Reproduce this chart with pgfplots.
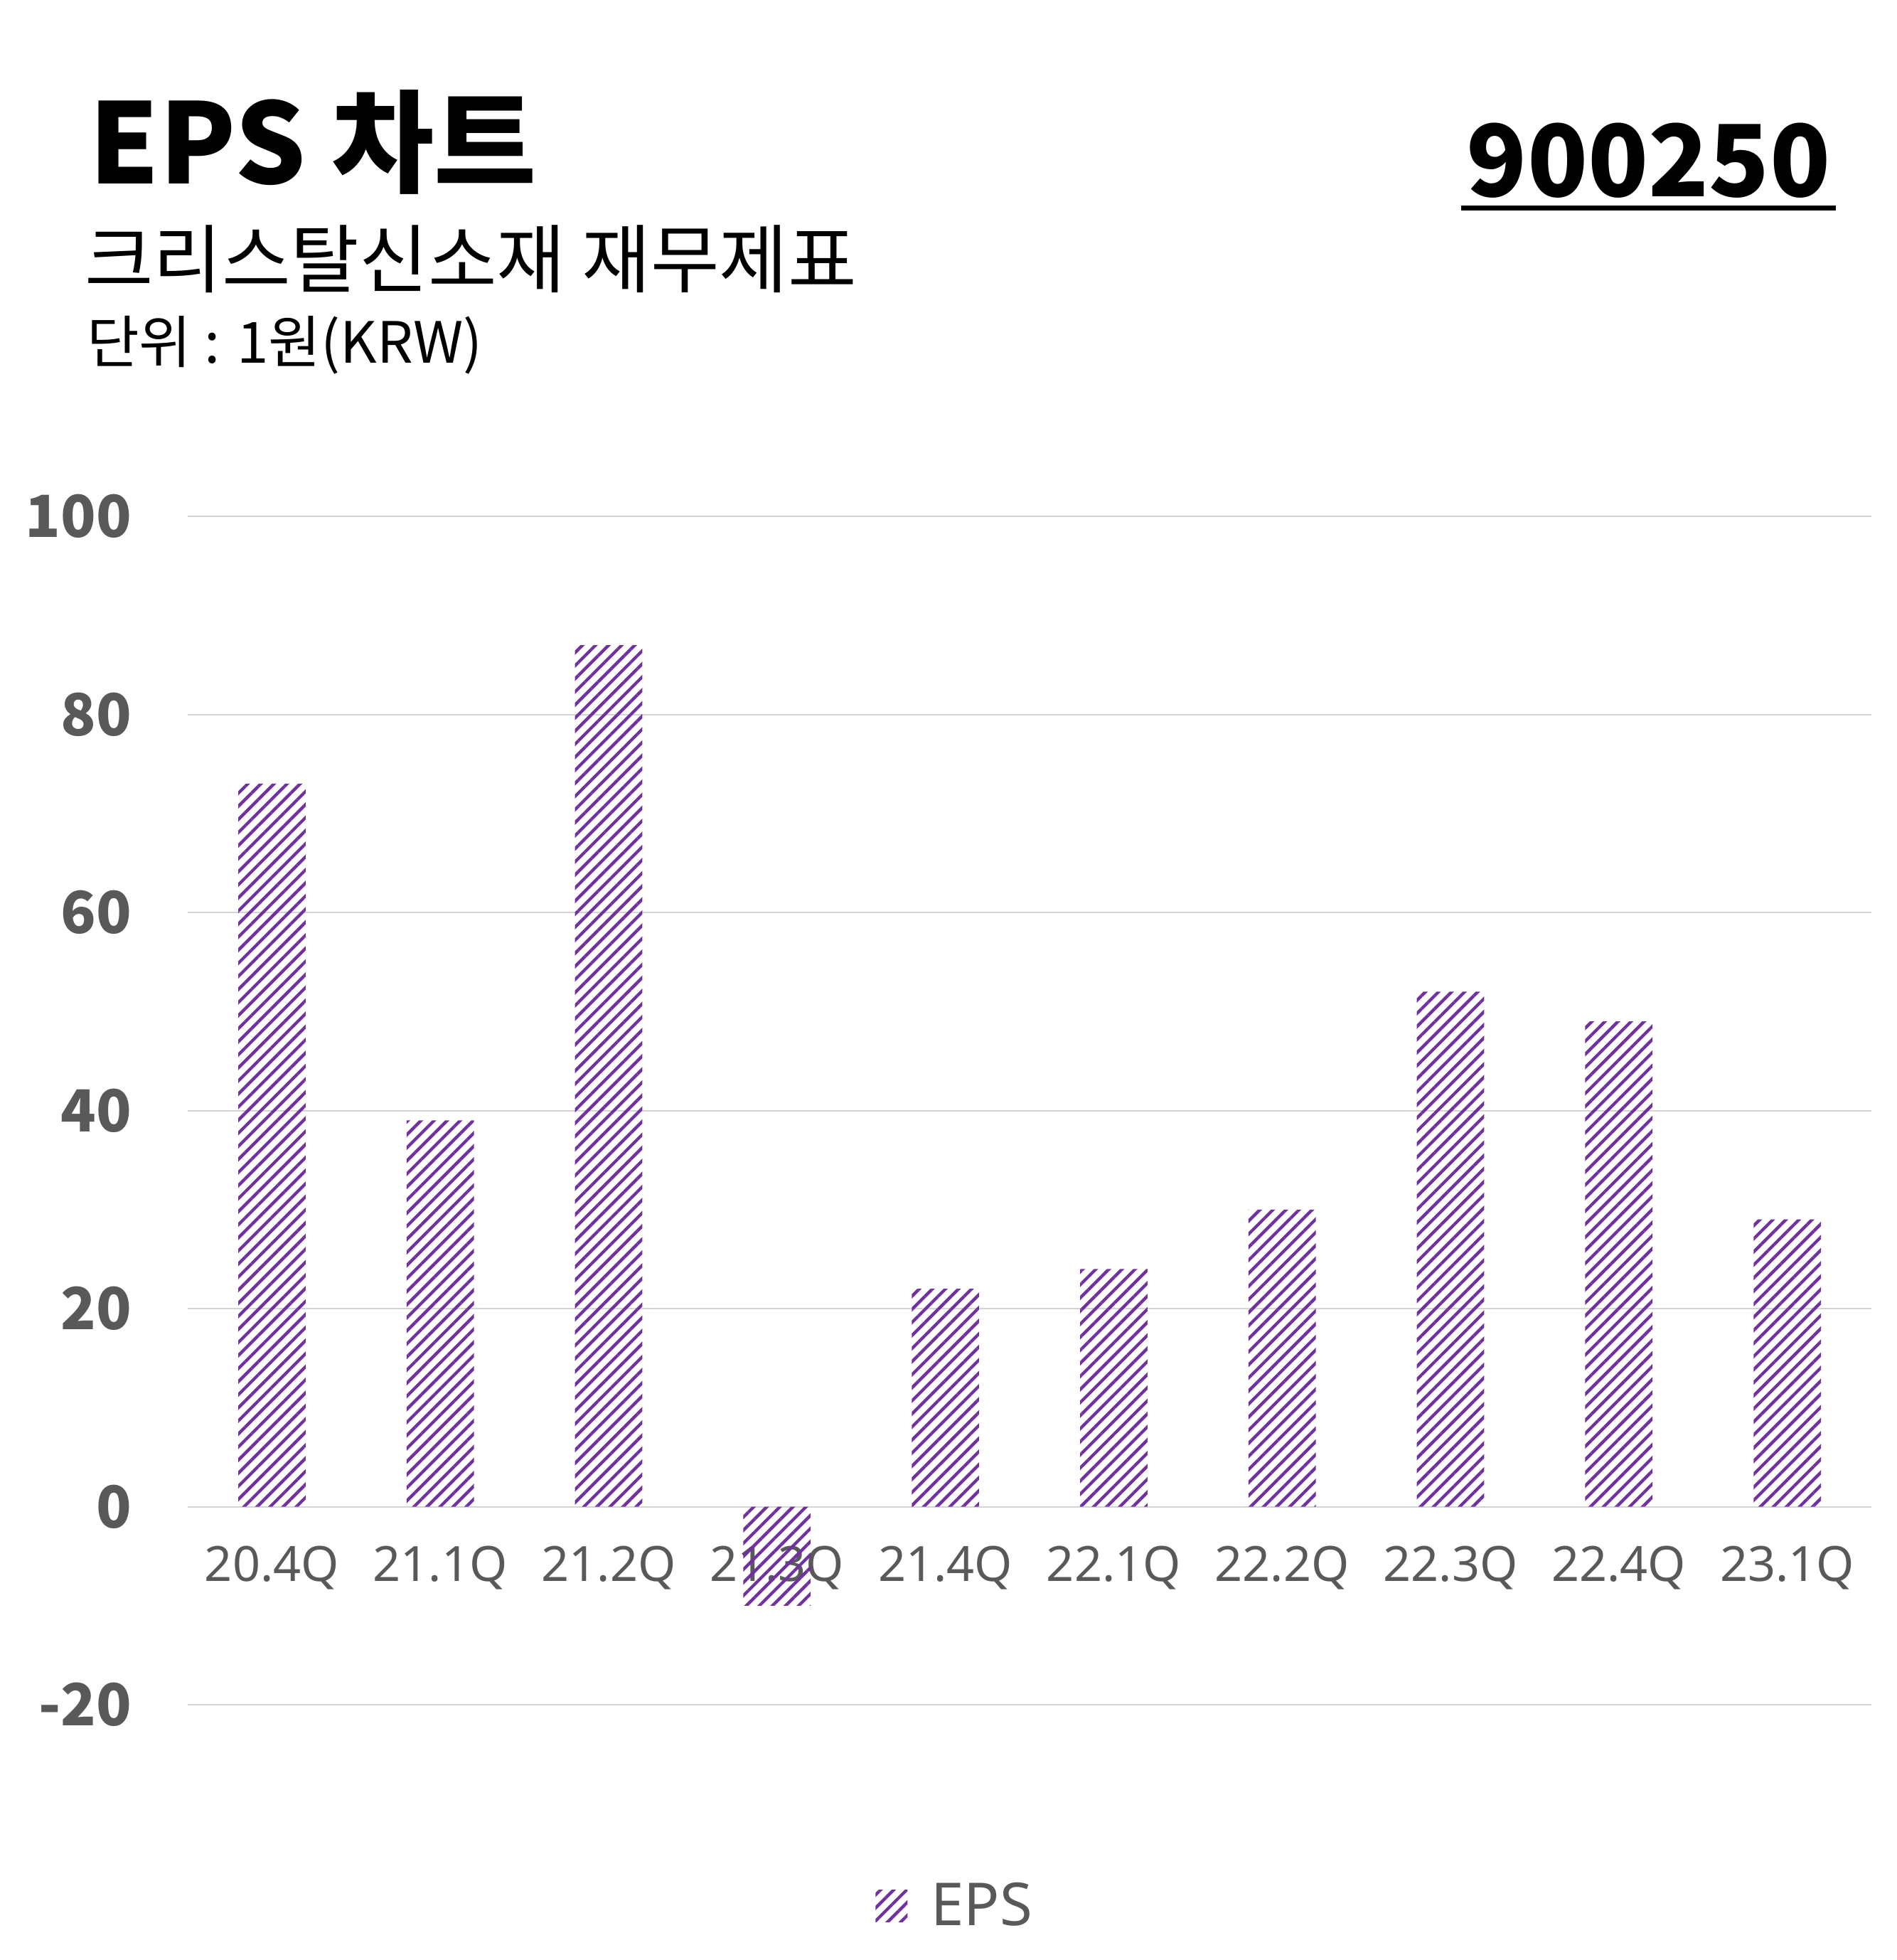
\documentclass[border=0pt]{standalone}
\usepackage{fontspec}
\setmainfont{Noto Sans}
\newfontfamily\kr{Noto Sans CJK KR}
\usepackage{pgfplots}
\pgfplotsset{compat=1.18}
\usetikzlibrary{patterns.meta}
\definecolor{barpurple}{HTML}{7030A0}
\definecolor{lblgray}{HTML}{595959}
\definecolor{gridgray}{HTML}{D4D4D4}

\begin{document}
\begin{tikzpicture}
\useasboundingbox (0,0) rectangle (800.1pt,-826.8pt);
\node[anchor=base west, inner sep=0pt, font=\kr\fontsize{47}{56}\selectfont\bfseries] at (37.5pt,-77.4pt) {EPS 차트};
\node[anchor=base east, inner sep=0pt, font=\kr\fontsize{42}{50}\selectfont\bfseries] (code) at (772.5pt,-82.8pt) {900250};
\draw[line width=2.1pt] ([xshift=-2pt,yshift=-4.8pt]code.base west) -- ([xshift=2pt,yshift=-4.8pt]code.base east);
\node[anchor=base west, inner sep=0pt, font=\kr\fontsize{31.5}{37}\selectfont] at (35.5pt,-121pt) {크리스탈신소재 재무제표};
\node[anchor=base west, inner sep=0pt, font=\kr\fontsize{24}{29}\selectfont] at (36.5pt,-153pt) {단위 : 1원(KRW)};
\begin{axis}[
  at={(79.2pt,-719.1pt)}, anchor=south west,
  scale only axis, width=710.4pt, height=501.3pt,
  xmin=-0.5, xmax=9.5, ymin=-20, ymax=100,
  axis line style={draw=none}, tick style={draw=none},
  major tick length=0pt,
  ymajorgrids, grid style={gridgray, line width=0.6pt},
  ytick={-20,0,20,40,60,80,100},
  yticklabels={-20,0,20,40,60,80,100},
  yticklabel style={font=\kr\fontsize{24.5}{29}\selectfont\bfseries, text=lblgray, anchor=east, inner sep=0pt, xshift=-23.5pt},
  xtick={0,1,2,3,4,5,6,7,8,9},
  xticklabels={20.4Q,21.1Q,21.2Q,21.3Q,21.4Q,22.1Q,22.2Q,22.3Q,22.4Q,23.1Q},
  xticklabel style={font=\fontsize{20.5}{25}\selectfont, text=lblgray, anchor=center, inner sep=0pt, yshift=57.6pt},
  legend style={at={(0.4565,-0.1694)}, anchor=center, draw=none, fill=none, inner sep=0pt,
    font=\fontsize{25}{30}\selectfont, text=lblgray,
    /tikz/every odd column/.append style={column sep=8pt}},
  legend image code/.code={\path[#1,draw=none] (0pt,-6.75pt) rectangle (13.5pt,6.75pt);},
]
\addplot[ybar, bar width=0.4, draw=none,
  pattern={Lines[angle=45,distance=3.9pt,line width=1.3pt]}, pattern color=barpurple]
  coordinates {(0,73) (1,39) (2,87) (3,-10) (4,22) (5,24) (6,30) (7,52) (8,49) (9,29)};
\addlegendentry{EPS}
\end{axis}
\end{tikzpicture}
\end{document}
